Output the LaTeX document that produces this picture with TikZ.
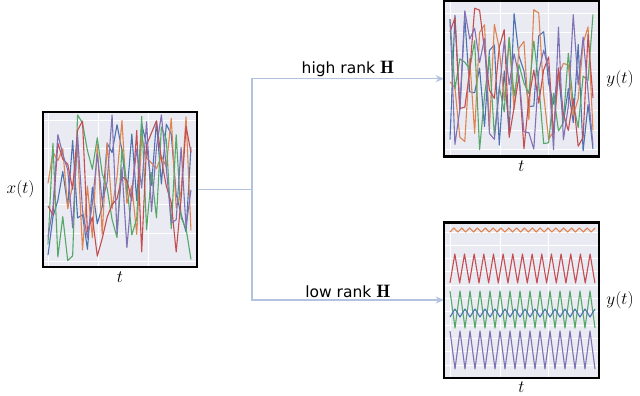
\documentclass[tikz,border=0pt]{standalone}
\usepackage{fontspec}
\newfontfamily\labelfont{DejaVu Sans}
\usetikzlibrary{positioning,arrows.meta}
\definecolor{sbBlue}{HTML}{4C72B0}
\definecolor{sbOrange}{HTML}{DD8452}
\definecolor{sbGreen}{HTML}{55A868}
\definecolor{sbRed}{HTML}{C44E52}
\definecolor{sbPurple}{HTML}{8172B3}
\definecolor{sbPanel}{HTML}{EAEAF2}
\definecolor{linkGrey}{HTML}{B3C2DE}

% random noise: colour, x0, dx, ytop, ybot
\newcommand{\noisyline}[5]{%
  \draw[series, #1] plot[domain=0:29, samples=30] ({#2+\x*#3}, {#4+rnd*(#5-#4)});}
% triangle wave: colour, x0, dx, ycentre, amplitude, segments, samples
\newcommand{\zigzagline}[7]{%
  \draw[series, #1] plot[domain=0:#6, samples=#7] ({#2+\x*#3}, {#4+#5*cos(180*\x)});}

\begin{document}
\begin{tikzpicture}[
    x=1pt, y=-1pt,
    panel/.style={fill=sbPanel, minimum width=154pt, minimum height=155pt, inner sep=0pt},
    frame/.style={draw=black, line width=2.4pt},
    gridline/.style={white, line width=0.9pt},
    series/.style={line width=1.1pt, line join=round},
    link/.style={linkGrey, line width=1.4pt},
    arrow/.style={link, -{Stealth[length=8pt, width=7pt, inset=2.5pt]}},
    axislabel/.style={font=\fontsize{18}{21}\selectfont, inner sep=1pt},
    ranklabel/.style={font=\labelfont\fontsize{15.5}{18}\selectfont, text=black, inner sep=1.5pt}
]
    \useasboundingbox (0,0) rectangle (640,396);

    \node[panel] (input) at (120,189.5) {};
    \node[panel, minimum width=155pt] (highout) at (521.5,78.7) {};
    \node[panel, minimum width=155pt] (lowout) at (521.5,300) {};

    % grids
    \foreach \gx in {48,98,148} \draw[gridline] (\gx,113) -- (\gx,266);
    \foreach \gy in {120,148.3,176.6,204.9,233.2,261.5} \draw[gridline] (44,\gy) -- (196,\gy);
    \foreach \gx in {450,500,548} {
        \draw[gridline] (\gx,2) -- (\gx,156);
        \draw[gridline] (\gx,223) -- (\gx,377);
    }
    \foreach \k in {0,...,7} \draw[gridline] (445,13+\k*19.5) -- (598,13+\k*19.5);
    \foreach \k in {0,...,10} \draw[gridline] (445,232+\k*13.3) -- (598,232+\k*13.3);

    % input and high rank output
    \pgfmathsetseed{11}
    \noisyline{sbBlue}{48}{4.93}{114}{263}
    \noisyline{sbOrange}{48}{4.93}{114}{263}
    \noisyline{sbGreen}{48}{4.93}{114}{263}
    \noisyline{sbRed}{48}{4.93}{114}{263}
    \noisyline{sbPurple}{48}{4.93}{114}{263}
    \pgfmathsetseed{5}
    \noisyline{sbBlue}{450}{4.93}{8}{151}
    \noisyline{sbOrange}{450}{4.93}{8}{151}
    \noisyline{sbGreen}{450}{4.93}{8}{151}
    \noisyline{sbRed}{450}{4.93}{8}{151}
    \noisyline{sbPurple}{450}{4.93}{8}{151}

    % low rank output
    \zigzagline{sbOrange}{450}{3.92}{230}{2}{37}{38}
    \zigzagline{sbRed}{450}{4.83}{268.5}{14.5}{30}{31}
    \zigzagline{sbGreen}{450}{5}{309.5}{-18.5}{29}{30}
    \zigzagline{sbBlue}{450}{5}{313}{4}{29}{30}
    \zigzagline{sbPurple}{450}{5}{350}{-19}{29}{30}

    % connectors
    \coordinate (split) at (252,189.5);
    \draw[link] (input.east) -- (split);
    \draw[arrow] (split) |- node[ranklabel, pos=0.75, above] {high rank {\fontsize{18}{20}\selectfont$\mathbf{H}$}} (highout.west);
    \draw[arrow] (split) |- node[ranklabel, pos=0.75, above] {low rank {\fontsize{18}{20}\selectfont$\mathbf{H}$}} (lowout.west);

    \draw[frame] (input.south west) rectangle (input.north east);
    \draw[frame] (highout.south west) rectangle (highout.north east);
    \draw[frame] (lowout.south west) rectangle (lowout.north east);

    \node[axislabel, left=7pt of input] (xlab) {$x(t)$};
    \node[axislabel, below=3pt of input] (tin) {$t$};
    \node[axislabel, right=6pt of highout] (yhigh) {$y(t)$};
    \node[axislabel, below=3pt of highout] (thigh) {$t$};
    \node[axislabel, right=6pt of lowout] (ylow) {$y(t)$};
    \node[axislabel, below=3pt of lowout] (tlow) {$t$};
\end{tikzpicture}
\end{document}
